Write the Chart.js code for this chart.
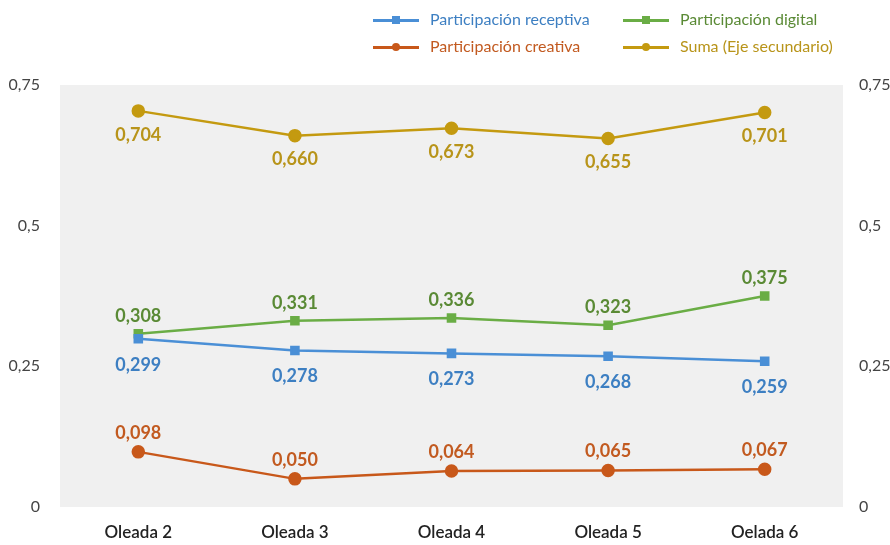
<!DOCTYPE html>
<html><head><meta charset="utf-8">
<script src="https://cdn.jsdelivr.net/npm/chart.js@4/dist/chart.umd.min.js"></script>
<style>
html,body{margin:0;padding:0;background:#fff;}
#wrap{position:relative;width:890px;height:545px;}
canvas{position:absolute;left:0;top:0;}
.lg{position:absolute;font-family:"Lato","Open Sans",sans-serif;font-size:16px;white-space:nowrap;line-height:18px;}
.sw{position:absolute;height:3px;}
.mk{position:absolute;}
</style></head>
<body><div id="wrap"><canvas id="c" width="890" height="545"></canvas></div>
<script>
const categories = ["Oleada 2","Oleada 3","Oleada 4","Oleada 5","Oelada 6"];
const receptiva = [0.299,0.278,0.273,0.268,0.259];
const digital = [0.308,0.331,0.336,0.323,0.375];
const creativa = [0.098,0.050,0.064,0.065,0.067];
const suma = [0.704,0.660,0.673,0.655,0.701];
const yTicks = [0,0.25,0.5,0.75];

const C_BLUE="#4a8fd6", C_ORANGE="#c8581a", C_GREEN="#6aad45", C_GOLD="#c49a10";
const fmt = v => v.toFixed(3).replace('.',',');
const tickFmt = v => String(v).replace('.',',');

const series = [
  {label:"Participación receptiva", data:receptiva, color:C_BLUE, text:"#3d7fc2", style:'rect', axis:'y', off:26},
  {label:"Participación digital", data:digital, color:C_GREEN, text:"#5a8a35", style:'rect', axis:'y', off:-18},
  {label:"Participación creativa", data:creativa, color:C_ORANGE, text:"#c25a20", style:'circle', axis:'y', off:-19},
  {label:"Suma (Eje secundario)", data:suma, color:C_GOLD, text:"#b8941a", style:'circle', axis:'y2', off:24}
];

// HTML legend
const wrap=document.getElementById('wrap');
const legPos=[[373,20],[623,20],[373,47],[623,47]];
series.forEach((s,k)=>{
  const [x,y]=legPos[k];
  const sw=document.createElement('div'); sw.className='sw';
  sw.style.cssText=`left:${x}px;top:${y-1}px;width:46px;background:${s.color}`; wrap.appendChild(sw);
  const mk=document.createElement('div'); mk.className='mk';
  mk.style.cssText=`left:${x+19}px;top:${y-4}px;width:8px;height:8px;background:${s.color};border-radius:${s.style==='circle'?'50%':'0'}`; wrap.appendChild(mk);
  const t=document.createElement('div'); t.className='lg'; t.textContent=s.label;
  t.style.cssText+=`left:${x+57}px;top:${y-10}px;color:${s.text}`; wrap.appendChild(t);
});

const bgPlugin={id:'bg',beforeDraw(ch){const a=ch.chartArea,ctx=ch.ctx;ctx.save();ctx.fillStyle='#f0f0f0';ctx.fillRect(a.left,a.top,a.right-a.left,a.bottom-a.top);ctx.restore();}};
const labelPlugin={id:'lbl',afterDatasetsDraw(ch){const ctx=ch.ctx;ctx.save();ctx.font='bold 18px Lato, "Open Sans", sans-serif';ctx.textAlign='center';ctx.textBaseline='middle';
  ch.data.datasets.forEach((ds,i)=>{const meta=ch.getDatasetMeta(i);ctx.fillStyle=series[i].text;
    meta.data.forEach((p,j)=>{ctx.fillText(fmt(ds.data[j]),p.x,p.y+series[i].off);});});ctx.restore();}};

new Chart(document.getElementById('c'),{
  type:'line',
  data:{labels:categories,datasets:series.map(s=>({label:s.label,data:s.data,borderColor:s.color,backgroundColor:s.color,
    pointStyle:s.style,pointRadius:s.style==='rect'?5:5.5,borderWidth:2.5,yAxisID:s.axis,tension:0}))},
  options:{responsive:false,animation:false,devicePixelRatio:1,
    layout:{padding:{top:85,bottom:0,left:0,right:0}},
    plugins:{legend:{display:false},tooltip:{enabled:false}},
    scales:{
      x:{offset:true,grid:{display:false},border:{display:false},
        ticks:{color:'#222',font:{family:'Lato, "Open Sans", sans-serif',size:17,weight:'600'},padding:7},
        afterFit(s){s.height=38;}},
      y:{position:'left',min:0,max:0.75,afterBuildTicks(s){s.ticks=yTicks.map(v=>({value:v}));},
        grid:{display:false},border:{display:false},
        ticks:{color:'#444',font:{family:'Lato, "Open Sans", sans-serif',size:16,weight:'normal'},padding:12,callback:tickFmt},
        afterFit(s){s.width=60;}},
      y2:{position:'right',min:0,max:0.75,afterBuildTicks(s){s.ticks=yTicks.map(v=>({value:v}));},
        grid:{display:false},border:{display:false},
        ticks:{color:'#444',font:{family:'Lato, "Open Sans", sans-serif',size:16,weight:'normal'},padding:8,callback:tickFmt},
        afterFit(s){s.width=47;}}
    }},
  plugins:[bgPlugin,labelPlugin]
});
</script></body></html>
